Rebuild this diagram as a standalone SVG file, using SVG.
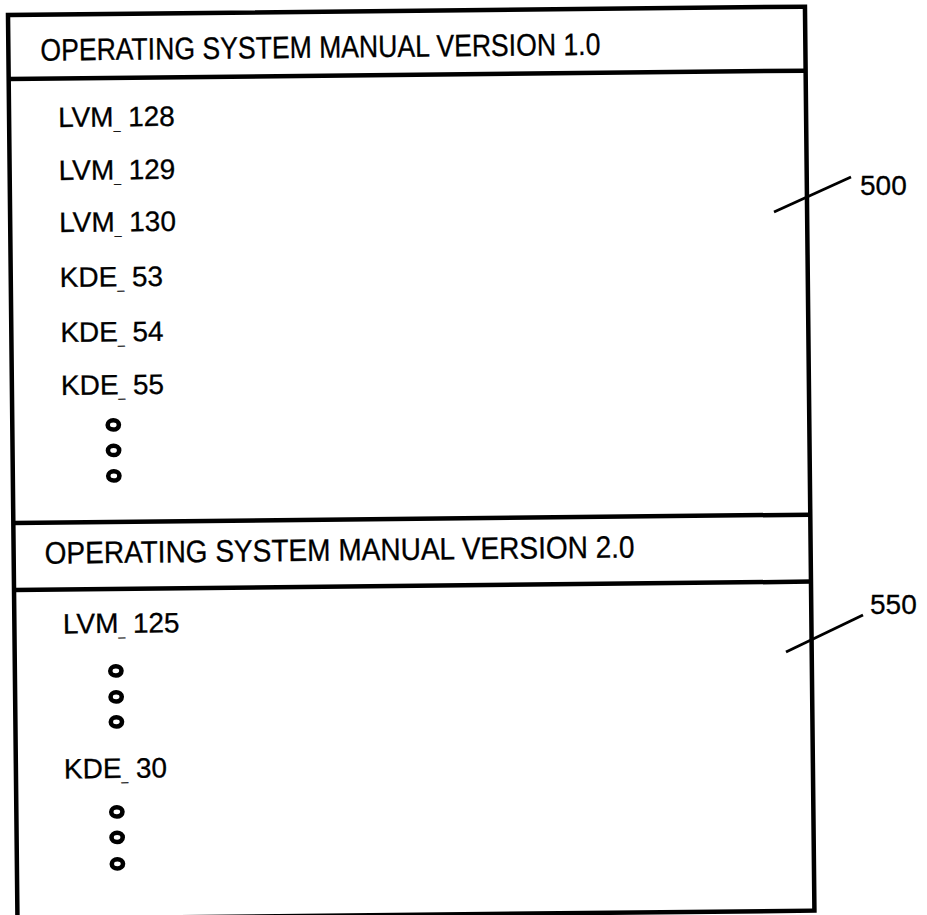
<svg xmlns="http://www.w3.org/2000/svg" width="927" height="915" viewBox="0 0 927 915">
<style>
.frame{fill:none;stroke:#000;stroke-width:4.5}
.div{stroke:#000;stroke-width:4.5}
.title{font-family:"Liberation Sans",Arial,sans-serif;font-size:31px;fill:#000;stroke:#000;stroke-width:0.3}
.item{font-family:"Liberation Sans",Arial,sans-serif;font-size:28px;fill:#000;stroke:#000;stroke-width:0.3}
.us{font-size:12px}
.dot{fill:none;stroke:#000;stroke-width:4.6}
.lbl{font-family:"Liberation Sans",Arial,sans-serif;font-size:28px;fill:#000;stroke:#000;stroke-width:0.3}
.lead{stroke:#000;stroke-width:2.8;fill:none}
</style>
<rect width="927" height="915" fill="#fff"/>
<g transform="rotate(-0.6 8 15)">
  <g id="manual-v1">
    <rect class="frame" x="8" y="15" width="797" height="904"/>
    <line class="div" x1="8" y1="79" x2="805" y2="79"/>
    <text class="title" x="40" y="61" textLength="560" lengthAdjust="spacingAndGlyphs">OPERATING SYSTEM MANUAL VERSION 1.0</text>
    <text class="item" x="57" y="127.5">LVM<tspan class="us" dy="3">_</tspan><tspan dy="-3"> 128</tspan></text>
    <text class="item" x="57" y="180.5">LVM<tspan class="us" dy="3">_</tspan><tspan dy="-3"> 129</tspan></text>
    <text class="item" x="57" y="232.5">LVM<tspan class="us" dy="3">_</tspan><tspan dy="-3"> 130</tspan></text>
    <text class="item" x="57" y="287.5">KDE<tspan class="us" dy="3">_</tspan><tspan dy="-3"> 53</tspan></text>
    <text class="item" x="57" y="342.5">KDE<tspan class="us" dy="3">_</tspan><tspan dy="-3"> 54</tspan></text>
    <text class="item" x="57" y="395.5">KDE<tspan class="us" dy="3">_</tspan><tspan dy="-3"> 55</tspan></text>
    <ellipse class="dot" cx="109" cy="426" rx="5.6" ry="4.6"/>
    <ellipse class="dot" cx="109" cy="451.5" rx="5.6" ry="4.6"/>
    <ellipse class="dot" cx="109" cy="477" rx="5.6" ry="4.6"/>
  </g>
  <g id="manual-v2">
    <line class="div" x1="8" y1="523" x2="805" y2="523"/>
    <line class="div" x1="8" y1="590" x2="805" y2="590"/>
    <text class="title" x="39" y="564" textLength="590" lengthAdjust="spacingAndGlyphs">OPERATING SYSTEM MANUAL VERSION 2.0</text>
    <text class="item" x="56.5" y="634">LVM<tspan class="us" dy="3">_</tspan><tspan dy="-3"> 125</tspan></text>
    <ellipse class="dot" cx="109" cy="672" rx="5.6" ry="4.6"/>
    <ellipse class="dot" cx="109" cy="698" rx="5.6" ry="4.6"/>
    <ellipse class="dot" cx="109" cy="723" rx="5.6" ry="4.6"/>
    <text class="item" x="56" y="779">KDE<tspan class="us" dy="3">_</tspan><tspan dy="-3"> 30</tspan></text>
    <ellipse class="dot" cx="108.5" cy="813" rx="5.6" ry="4.6"/>
    <ellipse class="dot" cx="108.5" cy="838.5" rx="5.6" ry="4.6"/>
    <ellipse class="dot" cx="108.5" cy="865" rx="5.6" ry="4.6"/>
  </g>
</g>
<g id="connectors">
  <line class="lead" x1="774" y1="212" x2="851" y2="177"/>
  <line class="lead" x1="786" y1="652" x2="863" y2="615"/>
</g>
<g id="label-500"><text class="lbl" x="860" y="195">500</text></g>
<g id="label-550"><text class="lbl" x="870" y="614">550</text></g>
</svg>
